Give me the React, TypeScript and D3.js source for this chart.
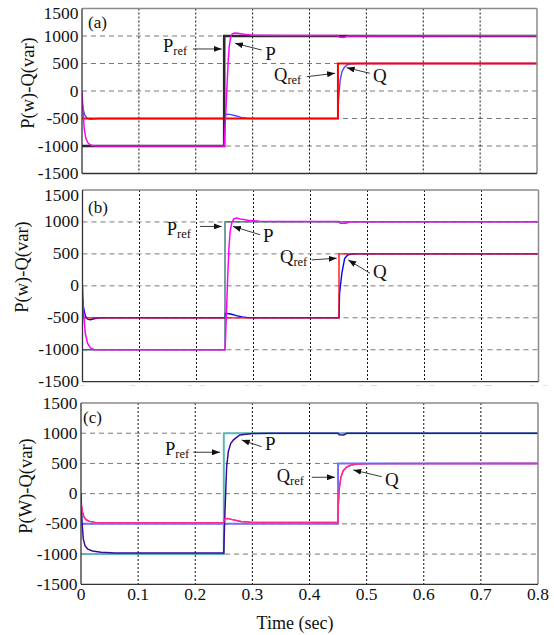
import React from "react";
import * as d3 from "d3";

type Pt = [number, number];

const xTicks = [0, 0.1, 0.2, 0.3, 0.4, 0.5, 0.6, 0.7, 0.8];
const yTicks = [-1500, -1000, -500, 0, 500, 1000, 1500];
const xTickLabels = ["0", "0.1", "0.2", "0.3", "0.4", "0.5", "0.6", "0.7", "0.8"];
const yTickLabels = ["-1500", "-1000", "-500", "0", "500", "1000", "1500"];
const panelNames = ["(a)", "(b)", "(c)"];
const yAxisTitles = ["P(w)-Q(var)", "P(w)-Q(var)", "P(W)-Q(var)"];
const xAxisTitle = "Time (sec)";

const pRefSteps: Pt[] = [[0, -1000], [0.25, -1000], [0.25, 1000], [0.8, 1000]];
const qRefSteps: Pt[] = [[0, -500], [0.45, -500], [0.45, 500], [0.8, 500]];

const pA: Pt[] = [[0, 0], [0.002, -400], [0.004, -700], [0.007, -870], [0.011, -950], [0.016, -985], [0.024, -1000], [0.25, -1000], [0.251, -780], [0.253, -350], [0.255, 100], [0.257, 550], [0.259, 820], [0.261, 960], [0.264, 1035], [0.268, 1055], [0.274, 1050], [0.285, 1030], [0.3, 1015], [0.35, 1008], [0.45, 1008], [0.452, 980], [0.46, 975], [0.468, 1000], [0.8, 1005]];
const qA: Pt[] = [[0, -180], [0.002, -330], [0.005, -440], [0.009, -495], [0.014, -515], [0.02, -510], [0.03, -500], [0.25, -500], [0.2505, -420], [0.26, -425], [0.27, -450], [0.28, -480], [0.29, -495], [0.3, -500], [0.45, -500], [0.451, -160], [0.454, 200], [0.457, 350], [0.461, 430], [0.466, 475], [0.473, 495], [0.485, 500], [0.8, 500]];

const pB: Pt[] = [[0, 0], [0.002, -450], [0.005, -750], [0.009, -900], [0.014, -970], [0.02, -995], [0.03, -1000], [0.25, -1000], [0.251, -800], [0.253, -300], [0.255, 200], [0.257, 600], [0.259, 850], [0.262, 990], [0.266, 1050], [0.27, 1060], [0.277, 1045], [0.29, 1025], [0.31, 1012], [0.35, 1008], [0.45, 1008], [0.452, 980], [0.462, 978], [0.47, 1002], [0.8, 1005]];
const qB: Pt[] = [[0, -190], [0.002, -350], [0.005, -470], [0.009, -520], [0.014, -530], [0.02, -515], [0.03, -500], [0.25, -500], [0.2505, -430], [0.26, -440], [0.27, -465], [0.28, -485], [0.29, -497], [0.3, -500], [0.45, -500], [0.451, -120], [0.455, 200], [0.46, 430], [0.465, 480], [0.472, 497], [0.48, 500], [0.8, 500]];

const pC: Pt[] = [[0, 0], [0.002, -500], [0.004, -750], [0.007, -860], [0.012, -920], [0.02, -950], [0.035, -970], [0.06, -980], [0.25, -980], [0.2505, -760], [0.252, -300], [0.255, 450], [0.258, 700], [0.262, 830], [0.267, 890], [0.278, 970], [0.3, 995], [0.33, 1000], [0.45, 1000], [0.452, 975], [0.46, 972], [0.465, 998], [0.8, 1000]];
const qC: Pt[] = [[0, -150], [0.002, -280], [0.005, -380], [0.009, -430], [0.015, -460], [0.025, -475], [0.04, -480], [0.25, -480], [0.2505, -420], [0.256, -410], [0.265, -430], [0.28, -460], [0.3, -475], [0.45, -478], [0.4505, -180], [0.452, 80], [0.455, 270], [0.459, 380], [0.465, 440], [0.472, 470], [0.48, 485], [0.5, 497], [0.8, 500]];

// annotation anchors in data coordinates: [textT, textV, arrowFromT, arrowFromV, arrowToT, arrowToV]
const annA = { pref: [0.1424, 715, 0.195, 764, 0.2456, 764], p: [0.322, 564, 0.316, 745, 0.269, 867], qref: [0.3376, 182, 0.395, 260, 0.445, 322], q: [0.5116, 169, 0.506, 322, 0.4654, 424] };
const annB = { pref: [0.1477, 800, 0.206, 930, 0.2442, 930], p: [0.3167, 694, 0.3114, 800, 0.264, 930], qref: [0.3465, 359, 0.402, 406, 0.446, 433], q: [0.5096, 123, 0.5044, 197, 0.4663, 406] };
const annC = { pref: [0.147, 640, 0.1966, 685, 0.2433, 685], p: [0.322, 723, 0.3163, 777, 0.2813, 888], qref: [0.3426, 198, 0.4039, 271, 0.4446, 271], q: [0.5322, 127, 0.5264, 281, 0.4767, 392] };

const panels = [
  { x0: 82, x1: 537, y0: 8.5, y1: 173.5, p: pA, q: qA, ann: annA, pRefC: "#2a2a2a", pRefW: 2.6, pC: "#ff00ff", qRefC: "#ff0000", qRefW: 2, qC: "#4a4aff", titleX: 34, titleY: 83, labX: 88, labY: 28, hiddenX: false, topShift: 4.5 },
  { x0: 82.5, x1: 538.5, y0: 190, y1: 381.7, p: pB, q: qB, ann: annB, pRefC: "#2e6b6b", pRefW: 1.3, pC: "#ff00ff", qRefC: "#ff0000", qRefW: 1.3, qC: "#0000ff", titleX: 28, titleY: 267, labX: 88, labY: 213, hiddenX: true, topShift: 5 },
  { x0: 81, x1: 538, y0: 403, y1: 584.3, p: pC, q: qC, ann: annC, pRefC: "#5cb8b8", pRefW: 2, pC: "#3a0a9a", qRefC: "#7070ff", qRefW: 2, qC: "#ff2a8a", titleX: 31.5, titleY: 486, labX: 83, labY: 423, hiddenX: false, topShift: 0 },
];

const FONT = "Liberation Serif, DejaVu Serif, serif";
const ts: React.CSSProperties = { fontFamily: FONT };

export default function App() {
  return (
    <svg width={554} height={635} style={{ position: "absolute", left: 0, top: 0, background: "#fff", fontFamily: FONT }}>
      <defs>
        <marker id="arr" viewBox="0 0 8 6" refX={8} refY={3} markerWidth={8} markerHeight={6} markerUnits="userSpaceOnUse" orient="auto">
          <path d="M0,0 L8,3 L0,6 z" fill="#111" />
        </marker>
        {panels.map((c, i) => (
          <clipPath id={`clip${i}`} key={i}>
            <rect x={c.x0} y={c.y0} width={c.x1 - c.x0} height={c.y1 - c.y0} />
          </clipPath>
        ))}
        <clipPath id="hidclip">
          <rect x={0} y={382.6} width={554} height={2.6} />
        </clipPath>
      </defs>
      {panels.map((c, i) => {
        const x = d3.scaleLinear().domain([0, 0.8]).range([c.x0, c.x1]);
        const y = d3.scaleLinear().domain([-1500, 1500]).range([c.y1, c.y0]);
        const line = d3.line<Pt>().x((d) => x(d[0])).y((d) => y(d[1]));
        const arrow = (a: number[], key: string) => (
          <line key={key} x1={x(a[2])} y1={y(a[3])} x2={x(a[4])} y2={y(a[5])} stroke="#222" strokeWidth={0.9} markerEnd="url(#arr)" />
        );
        return (
          <g key={i}>
            {yTicks.slice(1, -1).map((t) => (
              <line key={"h" + t} x1={c.x0} x2={c.x1} y1={y(t)} y2={y(t)} stroke="#7a7a7a" strokeWidth={1} strokeDasharray="5,4" />
            ))}
            {xTicks.slice(1, -1).map((t) => (
              <line key={"v" + t} x1={x(t)} x2={x(t)} y1={c.y0} y2={c.y1} stroke="#111" strokeWidth={1} strokeDasharray="2,2" />
            ))}
            <g clipPath={`url(#clip${i})`}>
              <path d={line(c.q) || ""} fill="none" stroke={c.qC} strokeWidth={1.4} />
              <path d={line(qRefSteps) || ""} fill="none" stroke={c.qRefC} strokeWidth={c.qRefW} />
              <path d={line(pRefSteps) || ""} fill="none" stroke={c.pRefC} strokeWidth={c.pRefW} />
              <path d={line(c.p) || ""} fill="none" stroke={c.pC} strokeWidth={1.5} />
              {i === 2 && <path d={line(c.q) || ""} fill="none" stroke={c.qC} strokeWidth={1.4} />}
            </g>
            <line x1={c.x0} x2={c.x1} y1={c.y0} y2={c.y0} stroke="#8a8a8a" strokeWidth={1.5} />
            <line x1={c.x1} x2={c.x1} y1={c.y0} y2={c.y1} stroke="#8a8a8a" strokeWidth={1.5} />
            <line x1={c.x0} x2={c.x0} y1={c.y0} y2={c.y1} stroke="#333" strokeWidth={1.3} />
            <line x1={c.x0} x2={c.x1} y1={c.y1} y2={c.y1} stroke="#333" strokeWidth={1.3} />
            {yTicks.map((t, k) => (
              <text key={"yl" + t} style={ts} x={c.x0 - 3.5} y={y(t) + 5.5 + (t === 1500 ? c.topShift : 0)} textAnchor="end" fontSize={17.5} fill="#111">{yTickLabels[k]}</text>
            ))}
            {i === 2 && xTicks.map((t, k) => (
              <text key={"xl" + t} style={ts} x={x(t)} y={600} textAnchor="middle" fontSize={17.5} fill="#111">{xTickLabels[k]}</text>
            ))}
            {c.hiddenX && (
              <g clipPath="url(#hidclip)">
                {xTicks.map((t, k) => (
                  <text key={"hx" + t} style={ts} x={x(t)} y={396} textAnchor="middle" fontSize={17.5} fill="#666">{xTickLabels[k]}</text>
                ))}
              </g>
            )}
            <text style={ts} transform={`translate(${c.titleX},${c.titleY}) rotate(-90)`} textAnchor="middle" fontSize={18.5} fill="#111">{yAxisTitles[i]}</text>
            <text style={ts} x={c.labX} y={c.labY} fontSize={17} fill="#111">{panelNames[i]}</text>
            <text style={ts} x={x(c.ann.pref[0])} y={y(c.ann.pref[1])} fontSize={18.5} fill="#111">P<tspan fontSize={12.5} dy={3}>ref</tspan></text>
            {arrow(c.ann.pref, "ap")}
            <text style={ts} x={x(c.ann.p[0])} y={y(c.ann.p[1])} fontSize={19} fill="#111">P</text>
            {arrow(c.ann.p, "app")}
            <text style={ts} x={x(c.ann.qref[0])} y={y(c.ann.qref[1])} fontSize={18.5} fill="#111">Q<tspan fontSize={12.5} dy={3}>ref</tspan></text>
            {arrow(c.ann.qref, "aq")}
            <text style={ts} x={x(c.ann.q[0])} y={y(c.ann.q[1])} fontSize={19} fill="#111">Q</text>
            {arrow(c.ann.q, "aqq")}
          </g>
        );
      })}
      <text style={ts} x={295} y={629} textAnchor="middle" fontSize={18} fill="#111">{xAxisTitle}</text>
    </svg>
  );
}
